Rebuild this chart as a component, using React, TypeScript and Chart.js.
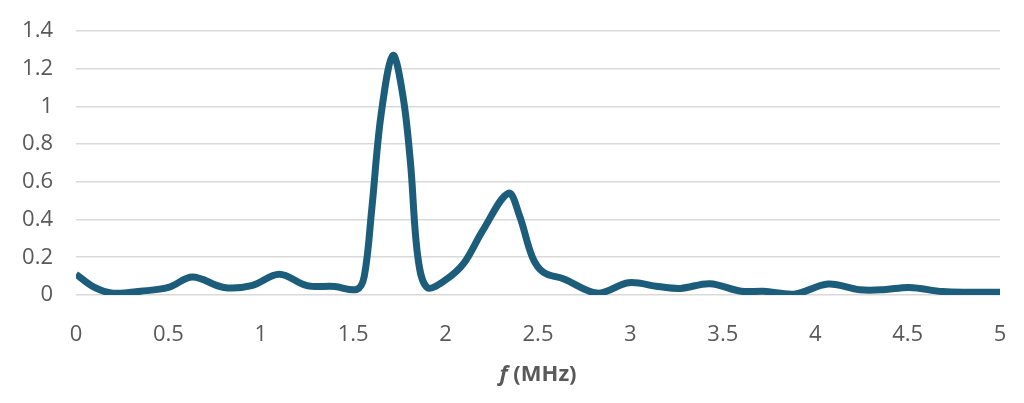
import React, { useEffect, useRef } from "react";
import { Chart, registerables } from "chart.js";

Chart.register(...registerables);

const freqMHz = [0, 0.1, 0.2, 0.35, 0.5, 0.63, 0.8, 0.95, 1.1, 1.25, 1.4, 1.52, 1.56, 1.6, 1.65, 1.715, 1.77, 1.81, 1.85, 1.9, 2.0, 2.1, 2.2, 2.34, 2.4, 2.47, 2.53, 2.64, 2.82, 2.99, 3.15, 3.27, 3.43, 3.6, 3.72, 3.89, 4.07, 4.24, 4.37, 4.51, 4.69, 4.85, 5.0];
const amplitude = [0.11, 0.04, 0.01, 0.02, 0.04, 0.095, 0.04, 0.05, 0.11, 0.05, 0.045, 0.03, 0.1, 0.45, 0.95, 1.27, 1.05, 0.7, 0.2, 0.04, 0.08, 0.17, 0.34, 0.54, 0.42, 0.2, 0.12, 0.085, 0.01, 0.065, 0.045, 0.035, 0.06, 0.02, 0.02, 0.005, 0.058, 0.028, 0.028, 0.04, 0.018, 0.015, 0.015];
const xTitleItalic = "f";
const xTitleRest = " (MHz)";

const FONT = "'Open Sans', 'Noto Sans', sans-serif";
const GRAY = "#595959";

export default function App() {
  const ref = useRef<HTMLCanvasElement | null>(null);
  useEffect(() => {
    if (!ref.current) return;
    const titlePlugin = {
      id: "xTitle",
      afterDraw(chart: any) {
        const { ctx, chartArea } = chart;
        ctx.save();
        ctx.fillStyle = GRAY;
        ctx.textBaseline = "middle";
        const fontA = `italic bold 22px ${FONT}`;
        const fontB = `bold 22px ${FONT}`;
        ctx.font = fontA;
        const wA = ctx.measureText(xTitleItalic).width;
        ctx.font = fontB;
        const wB = ctx.measureText(xTitleRest).width;
        const cx = (chartArea.left + chartArea.right) / 2;
        const x0 = cx - (wA + wB) / 2;
        const y = 375;
        ctx.font = fontA;
        ctx.textAlign = "left";
        ctx.fillText(xTitleItalic, x0, y);
        ctx.font = fontB;
        ctx.fillText(xTitleRest, x0 + wA, y);
        ctx.restore();
      },
    };
    const fmt = (v: any) => String(Math.round(Number(v) * 10) / 10);
    const chart = new Chart(ref.current, {
      type: "line",
      data: {
        datasets: [
          {
            data: freqMHz.map((x, i) => ({ x, y: amplitude[i] })),
            borderColor: "#1b5d7a",
            borderWidth: 7,
            pointRadius: 0,
            tension: 0.35,
            fill: false,
            borderCapStyle: "butt",
            borderJoinStyle: "round",
          },
        ],
      },
      options: {
        animation: false,
        responsive: false,
        maintainAspectRatio: false,
        layout: { padding: { top: 31, right: 24, left: 0, bottom: 0 } },
        plugins: { legend: { display: false }, tooltip: { enabled: false } },
        scales: {
          x: {
            type: "linear",
            min: 0,
            max: 5,
            ticks: { stepSize: 0.5, color: GRAY, font: { family: FONT, size: 22 }, padding: 19, maxRotation: 0, callback: fmt },
            grid: { display: false },
            border: { display: false },
            afterFit(scale: any) {
              scale.height = 108;
              scale.paddingLeft = 0;
              scale.paddingRight = 0;
            },
          },
          y: {
            min: 0,
            max: 1.4,
            ticks: { stepSize: 0.2, color: GRAY, font: { family: FONT, size: 22 }, padding: 23, callback: fmt },
            grid: { color: "#d9d9d9", lineWidth: 1.6, drawTicks: false },
            border: { display: false },
            afterFit(scale: any) {
              scale.width = 76;
              scale.paddingTop = 0;
              scale.paddingBottom = 0;
            },
          },
        },
      },
      plugins: [titlePlugin],
    } as any);
    return () => chart.destroy();
  }, []);
  return (
    <div style={{ position: "fixed", left: 0, top: 0, width: 1024, height: 403, background: "#fff" }}>
      <canvas ref={ref} width={1024} height={403} style={{ width: 1024, height: 403 }} />
    </div>
  );
}
